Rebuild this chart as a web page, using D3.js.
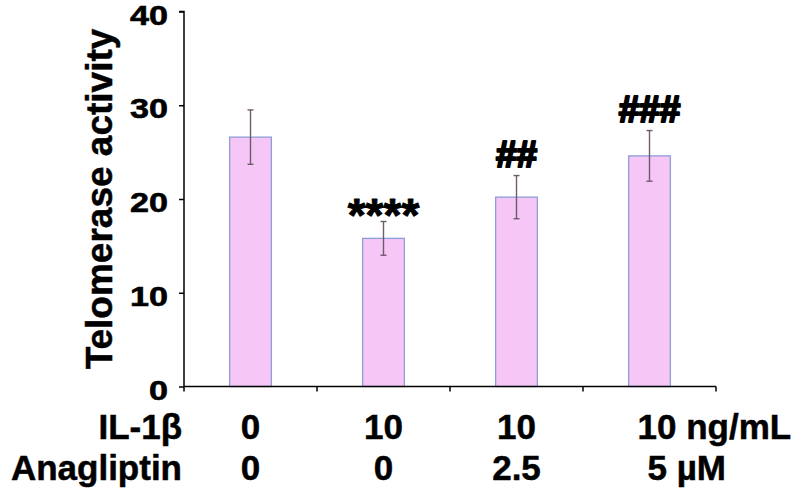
<!DOCTYPE html>
<html>
<head>
<meta charset="utf-8">
<script src="https://cdn.jsdelivr.net/npm/d3@7/dist/d3.min.js"></script>
<style>
  html, body { margin: 0; padding: 0; background: #fff; }
  svg { display: block; }
  text { font-family: "Liberation Sans", Arial, sans-serif; font-weight: bold; fill: #000; }
</style>
</head>
<body>
<div id="chart"></div>
<script>
// ---- data ----
const groups = ["G1", "G2", "G3", "G4"];
const means = [26.6, 15.8, 20.2, 24.6];
const errors = [2.9, 1.8, 2.3, 2.7];
const marks = ["", "****", "##", "###"];
const yTicks = [0, 10, 20, 30, 40];
const rowLabels = ["IL-1β", "Anagliptin"];
const il1bLabels = ["0", "10", "10", "10 ng/mL"];
const anaglLabels = ["0", "0", "2.5", "5 µM"];
const yTitle = "Telomerase activity";

// ---- layout ----
const W = 800, H = 493;
const plot = { left: 184, right: 716, top: 11.5, bottom: 386.5 };

const svg = d3.select("#chart").append("svg")
  .attr("width", W).attr("height", H);

const x = d3.scaleBand()
  .domain(groups)
  .range([plot.left, plot.right])
  .paddingInner(0.686)
  .paddingOuter(0.343);

const y = d3.scaleLinear().domain([0, 40]).range([plot.bottom, plot.top]);

// bars
svg.append("g").selectAll("rect")
  .data(groups)
  .join("rect")
  .attr("x", d => x(d))
  .attr("y", (d, i) => y(means[i]))
  .attr("width", x.bandwidth())
  .attr("height", (d, i) => y(0) - y(means[i]))
  .attr("fill", "#f6c6f6")
  .attr("stroke", "#8c9fd8")
  .attr("stroke-width", 1.3);

// error bars
const eb = svg.append("g").attr("stroke", "#6e5b6c").attr("stroke-width", 1.4);
groups.forEach((g, i) => {
  const cx = x(g) + x.bandwidth() / 2;
  const y1 = y(means[i] + errors[i]);
  const y2 = y(means[i] - errors[i]);
  eb.append("line").attr("x1", cx).attr("x2", cx).attr("y1", y1).attr("y2", y2);
  eb.append("line").attr("x1", cx - 3).attr("x2", cx + 3).attr("y1", y1).attr("y2", y1);
  eb.append("line").attr("x1", cx - 3).attr("x2", cx + 3).attr("y1", y2).attr("y2", y2);
});

// significance marks
groups.forEach((g, i) => {
  if (!marks[i]) return;
  const cx = x(g) + x.bandwidth() / 2;
  const top = y(means[i] + errors[i]);
  const isStar = marks[i].includes("*");
  svg.append("text")
    .attr("x", cx)
    .attr("y", isStar ? top + 9 : top - 9)
    .attr("text-anchor", "middle")
    .attr("stroke", "#000")
    .attr("stroke-width", isStar ? 1 : 2.2)
    .attr("stroke-linejoin", "round")
    .style("font-size", isStar ? "46px" : "37px")
    .text(marks[i]);
});

// y axis
const yAxis = d3.axisLeft(y).tickValues(yTicks).tickSize(5).tickFormat("");
const gy = svg.append("g").attr("transform", `translate(${plot.left},0)`).call(yAxis);
gy.select(".domain").attr("stroke", "#000").attr("stroke-width", 1.5).attr("d", `M-5,${y(40)}H0V${y(0)}`);
gy.selectAll(".tick line").attr("stroke", "#000").attr("stroke-width", 1.5);

svg.append("g").selectAll("text")
  .data(yTicks)
  .join("text")
  .attr("transform", d => `translate(${plot.left - 16},${y(d) + 13}) scale(1.22,1)`)
  .attr("text-anchor", "end")
  .attr("stroke", "#000").attr("stroke-width", 0.6)
  .style("font-size", "28px")
  .text(d => d);

// x axis line and boundary ticks
const step = x.step();
const boundaries = d3.range(groups.length + 1).map(i => plot.left + i * step);
const gx = svg.append("g").attr("stroke", "#000").attr("stroke-width", 1.5);
gx.append("line").attr("x1", plot.left).attr("x2", boundaries[boundaries.length - 1])
  .attr("y1", y(0)).attr("y2", y(0));
gx.selectAll("line.tk").data(boundaries).join("line").attr("class", "tk")
  .attr("x1", d => d).attr("x2", d => d)
  .attr("y1", y(0)).attr("y2", y(0) + 5);

// y title
svg.append("text")
  .attr("transform", `translate(112,${(plot.top + plot.bottom) / 2}) rotate(-90)`)
  .attr("text-anchor", "middle")
  .attr("stroke", "#000").attr("stroke-width", 0.5)
  .style("font-size", "37px")
  .text(yTitle);

// bottom condition table
const rowY = [439, 480];
rowLabels.forEach((lab, r) => {
  svg.append("text")
    .attr("x", 182).attr("y", rowY[r])
    .attr("text-anchor", "end")
    .attr("stroke", "#000").attr("stroke-width", 0.5)
    .style("font-size", "35px")
    .text(lab);
});
[il1bLabels, anaglLabels].forEach((row, r) => {
  row.forEach((lab, i) => {
    const cx = x(groups[i]) + x.bandwidth() / 2;
    const last = i === groups.length - 1;
    svg.append("text")
      .attr("x", last ? cx - (r === 0 ? 12 : 2) : cx)
      .attr("y", rowY[r])
      .attr("text-anchor", last ? "start" : "middle")
      .attr("stroke", "#000").attr("stroke-width", 0.5)
      .style("font-size", "35px")
      .text(lab);
  });
});
</script>
</body>
</html>
